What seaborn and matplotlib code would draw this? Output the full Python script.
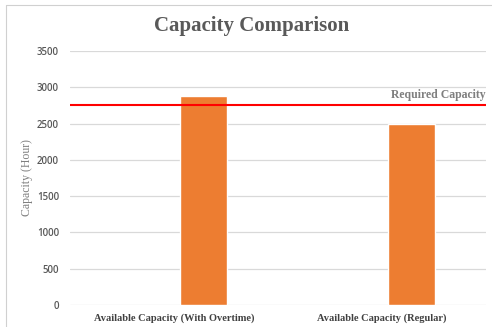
import matplotlib
matplotlib.use("Agg")
import matplotlib.pyplot as plt
import matplotlib.transforms as mtransforms
from matplotlib.lines import Line2D
import pandas as pd
import seaborn as sns

# ---- data ----
categories = ["Available Capacity (With Overtime)", "Available Capacity (Regular)"]
capacity_hours = [2880, 2500]
series_name = "Available Capacity"
required_capacity = 2760
yticks = [0, 500, 1000, 1500, 2000, 2500, 3000, 3500]

df = pd.DataFrame({"category": categories, "hours": capacity_hours,
                   "series": [series_name] * len(categories)})

sns.set_theme(style="white")
plt.rcParams["font.family"] = ["DejaVu Sans"]

fig = plt.figure(figsize=(4.92, 3.27), dpi=100)
ax = fig.add_axes([70 / 492, 22 / 327, 416 / 492, 254 / 327])

sns.barplot(data=df, x="category", y="hours", hue="series",
            hue_order=["Required", series_name],
            palette={"Required": "#ED7D31", series_name: "#ED7D31"},
            width=0.567, gap=0.21, dodge=True, legend=False, ax=ax, zorder=3,
            saturation=1)

ax.set_xlim(-0.5, 1.5)
ax.set_ylim(0, 3500)
ax.set_yticks(yticks)
ax.set_yticklabels([str(t) for t in yticks], fontfamily="Open Sans", fontsize=7,
                   color="#595959", fontweight="semibold")
ax.yaxis.grid(True, color="#D9D9D9", linewidth=0.9, zorder=0)
ax.xaxis.grid(False)
for s in ax.spines.values():
    s.set_visible(False)
ax.tick_params(axis="both", length=0)
ax.tick_params(axis="y", pad=8)
ax.tick_params(axis="x", pad=6)
for lbl in ax.get_xticklabels():
    lbl.set_fontfamily("Liberation Serif")
    lbl.set_fontweight("bold")
    lbl.set_fontsize(7.5)
    lbl.set_color("#404040")
ax.set_xlabel("")
ax.set_ylabel("Capacity (Hour)", fontfamily="Liberation Serif", fontsize=8.5,
              color="#7F7F7F", labelpad=3)

ax.axhline(required_capacity, color="#FF0000", linewidth=1.5, zorder=4)
trans = mtransforms.blended_transform_factory(ax.transAxes, ax.transData)
ax.text(0.999, required_capacity + 55, "Required Capacity", transform=trans,
        ha="right", va="bottom", fontfamily="Liberation Serif", fontweight="bold",
        fontsize=8.5, color="#7F7F7F")

fig.text(252 / 492, 1 - 26 / 327, "Capacity Comparison", ha="center", va="center",
         fontfamily="Liberation Serif", fontweight="bold", fontsize=15, color="#595959")

# chart frame (left and top edges visible in the crop)
x0, ytop = 5.5 / 492, 1 - 4.5 / 327
fig.add_artist(Line2D([x0, x0], [0, ytop], transform=fig.transFigure,
                      color="#D0D0D0", linewidth=0.8))
fig.add_artist(Line2D([x0, 1], [ytop, ytop], transform=fig.transFigure,
                      color="#D0D0D0", linewidth=0.8))

fig.savefig("out.png", dpi=100)
